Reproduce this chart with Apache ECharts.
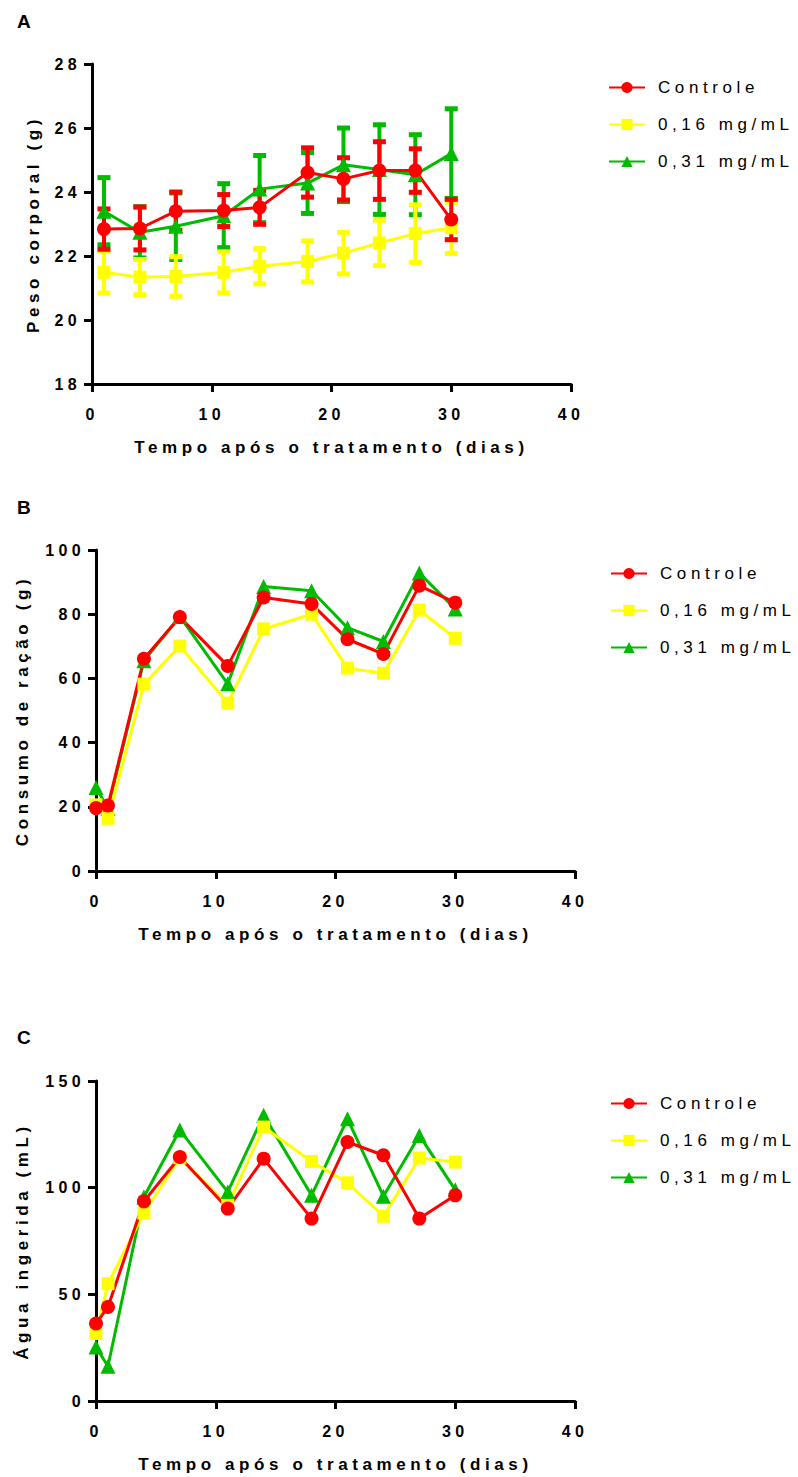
<!DOCTYPE html>
<html>
<head>
<meta charset="utf-8">
<script src="https://cdn.jsdelivr.net/npm/echarts@6/dist/echarts.min.js"></script>
<style>
  html, body { margin: 0; padding: 0; background: #fff; }
  #chart { width: 798px; height: 1477px; }
  /* wide letter spacing like the exported figure */
  #chart text { letter-spacing: 0.27em; }
</style>
</head>
<body>
<div id="chart"></div>
<script>
  // --- data ---
  const seriesNames = ["Controle", "0,16 mg/mL", "0,31 mg/mL"];

  // A: body weight (mean and error)
  const diasPeso = [1, 4, 7, 11, 14, 18, 21, 24, 27, 30];
  const pesoControle = [22.84, 22.86, 23.40, 23.42, 23.52, 24.61, 24.41, 24.67, 24.67, 23.14];
  const pesoControleErr = [0.63, 0.67, 0.60, 0.50, 0.53, 0.77, 0.66, 0.90, 0.68, 0.63];
  const peso016 = [21.49, 21.34, 21.36, 21.49, 21.68, 21.83, 22.09, 22.41, 22.70, 22.88];
  const peso016Err = [0.65, 0.55, 0.62, 0.64, 0.55, 0.64, 0.65, 0.71, 0.90, 0.80];
  const peso031 = [23.40, 22.74, 22.93, 23.26, 24.09, 24.28, 24.85, 24.70, 24.54, 25.20];
  const peso031Err = [1.05, 0.80, 1.04, 1.00, 1.05, 0.95, 1.15, 1.40, 1.25, 1.40];

  // B: food consumption
  const dias = [0, 1, 4, 7, 11, 14, 18, 21, 24, 27, 30];
  const consumoControle = [19.6, 20.4, 66.1, 79.1, 63.9, 85.2, 83.2, 72.2, 67.6, 88.9, 83.6];
  const consumo016 = [20.6, 16.4, 58.2, 70.1, 52.3, 75.4, 80.0, 63.2, 61.6, 81.3, 72.5];
  const consumo031 = [26.0, 19.5, 65.5, 79.3, 58.3, 88.6, 87.3, 75.8, 71.5, 92.8, 81.6];

  // C: water intake
  const aguaControle = [36.3, 44.1, 93.6, 114.4, 90.2, 113.6, 85.5, 121.4, 115.2, 85.5, 96.4];
  const agua016 = [31.6, 55.0, 88.1, 114.0, 91.7, 128.4, 112.3, 102.3, 86.6, 113.9, 112.0];
  const agua031 = [25.3, 16.3, 95.6, 127.0, 98.0, 134.0, 96.4, 132.3, 96.0, 124.5, 99.0];

  const xTitle = "Tempo após o tratamento (dias)";
  const yTitles = ["Peso corporal (g)", "Consumo de ração (g)", "Água ingerida (mL)"];
  const panelLetters = ["A", "B", "C"];

  const RED = "#ff0000";
  const YELLOW = "#ffff00";
  const GREEN = "#00bb00";
  const FONT = "'Liberation Sans', Arial, sans-serif";

  const chart = echarts.init(document.getElementById("chart"), null, { renderer: "svg" });

  function errorBarItem(params, api) {
    const x = api.value(0);
    const m = api.value(1);
    const e = api.value(2);
    const top = api.coord([x, m + e]);
    const bot = api.coord([x, m - e]);
    const color = api.visual("color");
    const half = 6.5;
    return {
      type: "group",
      children: [
        { type: "line", shape: { x1: top[0], y1: top[1], x2: bot[0], y2: bot[1] }, style: { stroke: color, lineWidth: 4 } },
        { type: "line", shape: { x1: top[0] - half, y1: top[1], x2: top[0] + half, y2: top[1] }, style: { stroke: color, lineWidth: 5 } },
        { type: "line", shape: { x1: bot[0] - half, y1: bot[1], x2: bot[0] + half, y2: bot[1] }, style: { stroke: color, lineWidth: 5 } },
      ],
    };
  }

  function lineSeries(name, idx, xs, ys, symbol, size, color) {
    return {
      type: "line",
      name: name,
      xAxisIndex: idx,
      yAxisIndex: idx,
      data: xs.map((x, i) => [x, ys[i]]),
      symbol: symbol,
      symbolSize: size,
      lineStyle: { width: 3, color: color },
      itemStyle: { color: color },
      emphasis: { disabled: true },
      animation: false,
    };
  }

  function errSeries(name, idx, xs, ys, errs, color) {
    return {
      type: "custom",
      name: name + " erro",
      xAxisIndex: idx,
      yAxisIndex: idx,
      data: xs.map((x, i) => [x, ys[i], errs[i]]),
      renderItem: errorBarItem,
      itemStyle: { color: color },
      animation: false,
      silent: true,
    };
  }

  const axisLine = { onZero: false, lineStyle: { color: "#000", width: 3 } };
  const axisTick = { length: 8, lineStyle: { color: "#000", width: 3 } };
  const tickLabel = { color: "#000", fontWeight: "bold", fontSize: 16, fontFamily: FONT };
  const nameStyle = { color: "#000", fontWeight: "bold", fontSize: 17, fontFamily: FONT };

  const grids = [
    { left: 92, top: 64, width: 479, height: 320 },
    { left: 96, top: 550, width: 479, height: 321 },
    { left: 96, top: 1081, width: 479, height: 320 },
  ];
  const yRanges = [
    { min: 18, max: 28, interval: 2, nameGap: 50 },
    { min: 0, max: 100, interval: 20, nameGap: 65 },
    { min: 0, max: 150, interval: 50, nameGap: 65 },
  ];
  const legendTops = [74, 560, 1090];
  const legendLefts = [603, 605, 605];
  const titleTops = [12, 498, 1028];

  const option = {
    backgroundColor: "#fff",
    title: panelLetters.map((t, i) => ({
      text: t,
      left: 17,
      top: titleTops[i],
      padding: 0,
      textStyle: { color: "#000", fontWeight: "bold", fontSize: 19, fontFamily: FONT },
    })),
    legend: legendTops.map((top, i) => ({
      orient: "vertical",
      left: legendLefts[i],
      top: top,
      itemWidth: 36,
      itemHeight: 14,
      itemGap: 20,
      selectedMode: false,
      data: seriesNames,
      textStyle: { color: "#000", fontSize: 17, fontFamily: FONT, padding: [0, 0, 0, 8] },
    })),
    grid: grids,
    xAxis: grids.map((g, i) => ({
      type: "value",
      gridIndex: i,
      min: 0,
      max: 40,
      interval: 10,
      name: xTitle,
      nameLocation: "middle",
      nameGap: 55,
      nameTextStyle: nameStyle,
      axisLine: axisLine,
      axisTick: axisTick,
      axisLabel: Object.assign({ margin: 22 }, tickLabel),
      splitLine: { show: false },
    })),
    yAxis: yRanges.map((r, i) => ({
      type: "value",
      gridIndex: i,
      min: r.min,
      max: r.max,
      interval: r.interval,
      name: yTitles[i],
      nameLocation: "middle",
      nameRotate: 90,
      nameGap: r.nameGap,
      nameTextStyle: nameStyle,
      axisLine: axisLine,
      axisTick: axisTick,
      axisLabel: Object.assign({ margin: 11 }, tickLabel),
      splitLine: { show: false },
    })),
    series: [
      // A
      errSeries(seriesNames[2], 0, diasPeso, peso031, peso031Err, GREEN),
      lineSeries(seriesNames[2], 0, diasPeso, peso031, "triangle", 15, GREEN),
      errSeries(seriesNames[1], 0, diasPeso, peso016, peso016Err, YELLOW),
      lineSeries(seriesNames[1], 0, diasPeso, peso016, "rect", 13, YELLOW),
      errSeries(seriesNames[0], 0, diasPeso, pesoControle, pesoControleErr, RED),
      lineSeries(seriesNames[0], 0, diasPeso, pesoControle, "circle", 14, RED),
      // B
      lineSeries(seriesNames[2], 1, dias, consumo031, "triangle", 15, GREEN),
      lineSeries(seriesNames[1], 1, dias, consumo016, "rect", 13, YELLOW),
      lineSeries(seriesNames[0], 1, dias, consumoControle, "circle", 14, RED),
      // C
      lineSeries(seriesNames[2], 2, dias, agua031, "triangle", 15, GREEN),
      lineSeries(seriesNames[1], 2, dias, agua016, "rect", 13, YELLOW),
      lineSeries(seriesNames[0], 2, dias, aguaControle, "circle", 14, RED),
    ],
  };

  chart.setOption(option);
</script>
</body>
</html>
